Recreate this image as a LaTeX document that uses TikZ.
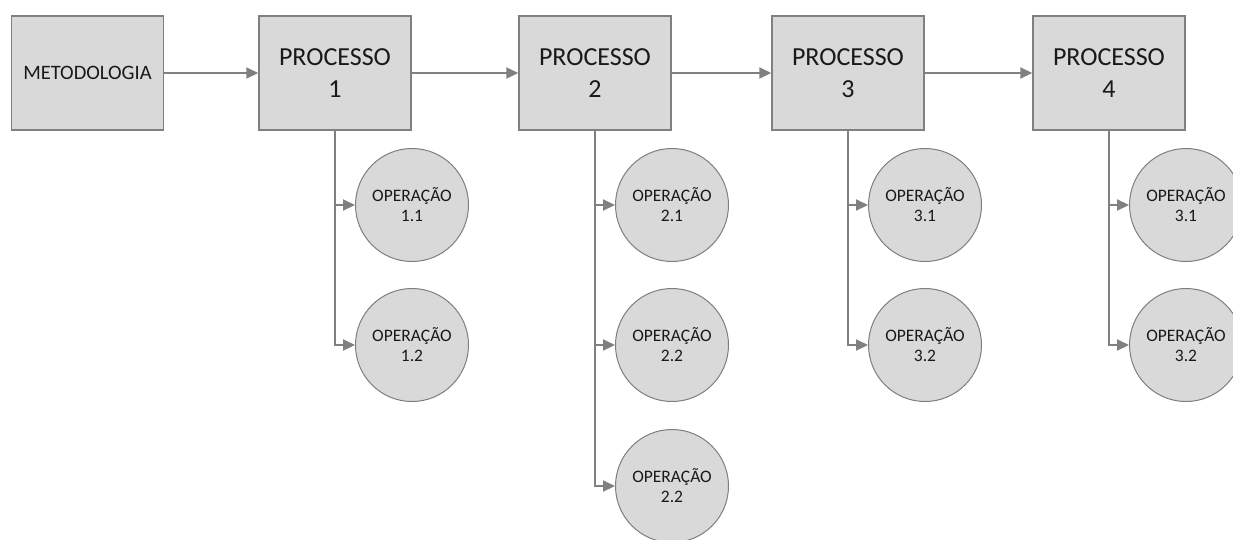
\documentclass[tikz,border=0pt]{standalone}
\usepackage{fontspec}
\setmainfont{Carlito}
\usetikzlibrary{arrows.meta}
\definecolor{boxfill}{HTML}{D9D9D9}
\definecolor{edge}{HTML}{7F7F7F}
\definecolor{linegray}{HTML}{808080}
\tikzset{
  procbox/.style={draw=linegray, line width=1.5pt, fill=boxfill, minimum width=152pt, minimum height=114pt, inner sep=0pt, align=center, font=\fontsize{26}{32}\selectfont, text=black!90},
  metbox/.style={procbox, font=\fontsize{20.5}{24}\selectfont},
  opcircle/.style={circle, draw=edge, line width=1pt, fill=boxfill, minimum size=113pt, inner sep=0pt, align=center, font=\fontsize{17.5}{20}\selectfont, text=black!90},
  link/.style={draw=linegray, line width=2pt, -{Triangle[length=12pt,width=11pt]}}
}
\begin{document}
\begin{tikzpicture}[x=1pt, y=-1pt]
  \useasboundingbox (0,0) rectangle (1233,539);
  \clip (0,0) rectangle (1233,539);
  \fill[white] (0,0) rectangle (1233,539);

  % top row: methodology and the four processes
  \node[metbox]  (met) at (87.5,73) {METODOLOGIA};
  \node[procbox] (p1)  at (335,73)  {PROCESSO\\1};
  \node[procbox] (p2)  at (595,73)  {PROCESSO\\2};
  \node[procbox] (p3)  at (848,73)  {PROCESSO\\3};
  \node[procbox] (p4)  at (1109,73) {PROCESSO\\4};

  % operations below each process
  \node[opcircle] (o11) at (412,205)  {OPERAÇÃO\\1.1};
  \node[opcircle] (o12) at (412,345)  {OPERAÇÃO\\1.2};
  \node[opcircle] (o21) at (672,205)  {OPERAÇÃO\\2.1};
  \node[opcircle] (o22) at (672,345)  {OPERAÇÃO\\2.2};
  \node[opcircle] (o23) at (672,486)  {OPERAÇÃO\\2.2};
  \node[opcircle] (o31) at (925,205)  {OPERAÇÃO\\3.1};
  \node[opcircle] (o32) at (925,345)  {OPERAÇÃO\\3.2};
  \node[opcircle] (o41) at (1186,205) {OPERAÇÃO\\3.1};
  \node[opcircle] (o42) at (1186,345) {OPERAÇÃO\\3.2};

  % horizontal flow
  \draw[link] (met.east) -- (p1.west);
  \draw[link] (p1.east) -- (p2.west);
  \draw[link] (p2.east) -- (p3.west);
  \draw[link] (p3.east) -- (p4.west);

  % branches to operations
  \draw[link] (p1.south) |- (o11.west);
  \draw[link] (p1.south) |- (o12.west);
  \draw[link] (p2.south) |- (o21.west);
  \draw[link] (p2.south) |- (o22.west);
  \draw[link] (p2.south) |- (o23.west);
  \draw[link] (p3.south) |- (o31.west);
  \draw[link] (p3.south) |- (o32.west);
  \draw[link] (p4.south) |- (o41.west);
  \draw[link] (p4.south) |- (o42.west);
\end{tikzpicture}
\end{document}
